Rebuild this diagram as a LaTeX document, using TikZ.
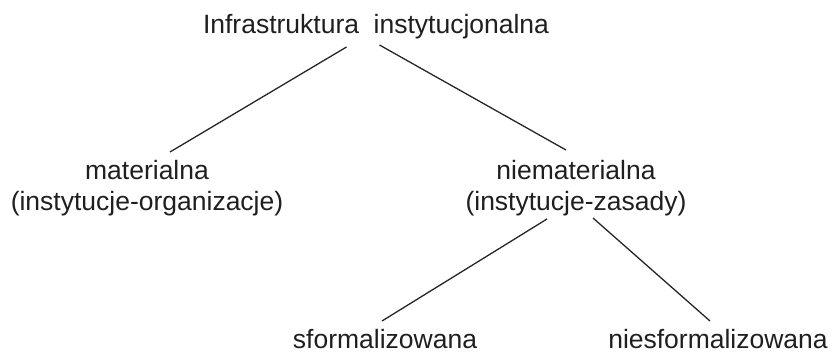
\documentclass[tikz,border=0pt]{standalone}
\usepackage{fontspec}
\setmainfont{Liberation Sans}
\begin{document}
\begin{tikzpicture}[x=1pt,y=1pt,
  lbl/.style={inner sep=0pt,font=\fontsize{26.5}{31}\selectfont,text=black!88,align=center},
  edge/.style={line width=1.3pt,draw=black!85}]
\useasboundingbox (0,0) rectangle (833,-354);
\node[lbl,anchor=base] (top) at (376,-33) {Infrastruktura\hspace{0.55em}instytucjonalna};
\node[lbl] (mat) at (147,-188) {materialna\\(instytucje-organizacje)};
\node[lbl] (niemat) at (576,-188) {niematerialna\\(instytucje-zasady)};
\node[lbl,anchor=base] (sform) at (385,-348) {sformalizowana};
\node[lbl,anchor=base] (niesf) at (718,-348) {niesformalizowana};
\draw[edge] ([shift={(-29.5,-14)}]top.base) -- ([shift={(23,36)}]mat.center);
\draw[edge] ([shift={(3.5,-12)}]top.base) -- ([shift={(-10,38)}]niemat.center);
\draw[edge] ([shift={(-29,-31)}]niemat.center) -- ([shift={(-3,27)}]sform.base);
\draw[edge] ([shift={(17,-30)}]niemat.center) -- ([shift={(-8,27)}]niesf.base);
\end{tikzpicture}
\end{document}
